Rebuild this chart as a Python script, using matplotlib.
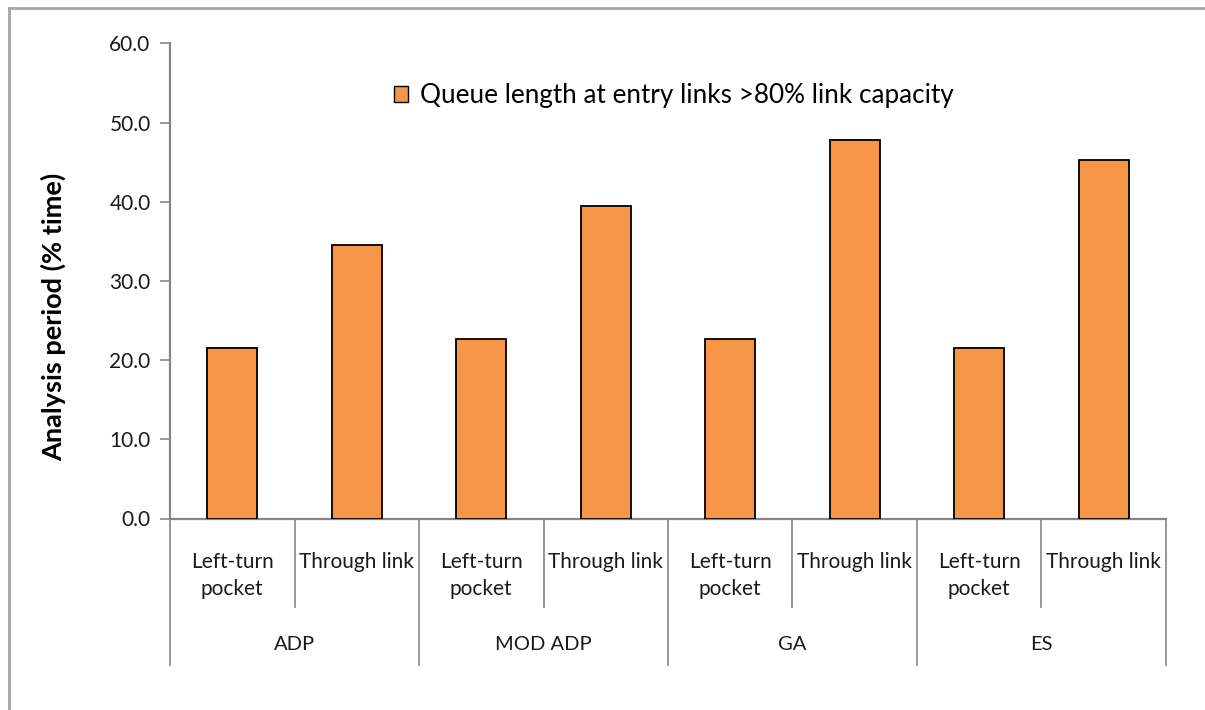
import matplotlib
matplotlib.use("Agg")
import matplotlib.pyplot as plt
from matplotlib.lines import Line2D
from matplotlib.patches import Patch

plt.rcParams['font.family'] = ['Lato', 'DejaVu Sans']

groups = ["ADP", "MOD ADP", "GA", "ES"]
links = ["Left-turn\npocket", "Through link"]
values = [21.5, 34.5, 22.7, 39.5, 22.7, 47.8, 21.5, 45.3]
series_name = "Queue length at entry links >80% link capacity"
y_ticks = [0, 10, 20, 30, 40, 50, 60]

bar_color = "#F79646"
axis_gray = "#868686"
text_color = "#1a1a1a"

W, H = 1205, 710
fig = plt.figure(figsize=(W / 100, H / 100), dpi=100)
ax = fig.add_axes([170 / W, 1 - 518.5 / H, (1166 - 170) / W, (518.5 - 43.3) / H])

n = len(values)
xs = list(range(n))
ax.bar(xs, values, width=0.4, color=bar_color, edgecolor="black", linewidth=1.3, zorder=3)

ax.set_xlim(-0.5, n - 0.5)
ax.set_ylim(0, 60)
ax.set_yticks(y_ticks)
ax.set_yticklabels([f"{v:.1f}" for v in y_ticks], fontsize=15, color=text_color)
ax.tick_params(axis="y", direction="out", length=7, width=1.2, color=axis_gray, pad=7)
ax.set_xticks([])

for s in ["top", "right"]:
    ax.spines[s].set_visible(False)
for s in ["left", "bottom"]:
    ax.spines[s].set_color(axis_gray)
    ax.spines[s].set_linewidth(1.6)

ax.set_ylabel("Analysis period (% time)", fontsize=19.5, fontweight="bold")
ax.yaxis.set_label_coords(-0.104, 0.425)

# Two-level category axis below the plot
tr = ax.get_xaxis_transform()
h_axes = 518.5 - 43.3
inner_end = -(607 - 518.5) / h_axes
outer_end = -(665 - 518.5) / h_axes
for k in range(n + 1):
    xpos = k - 0.5
    end = outer_end if k % 2 == 0 else inner_end
    ax.add_line(Line2D([xpos, xpos], [0, end], transform=tr, color=axis_gray,
                       linewidth=1.2, clip_on=False))

y_line1 = -(560 - 518.5) / h_axes
for i in range(n):
    ax.text(xs[i], y_line1 + 0.017, links[i % 2], transform=tr, ha="center", va="top",
            fontsize=15, color=text_color, linespacing=1.45)

y_group = -(645 - 518.5) / h_axes
for g, name in enumerate(groups):
    ax.text(2 * g + 0.5, y_group, name, transform=tr, ha="center", va="center",
            fontsize=14.5, color=text_color)

# Legend
handle = Patch(facecolor=bar_color, edgecolor="black", linewidth=1.0)
fig.legend([handle], [series_name], loc="center left",
           bbox_to_anchor=(381 / W, 1 - 96 / H), frameon=False, fontsize=18.8,
           handlelength=0.55, handleheight=0.55, handletextpad=0.45, borderpad=0)

# Outer chart frame (top and left edges)
fig.add_artist(Line2D([9 / W, 1], [1 - 8 / H, 1 - 8 / H], transform=fig.transFigure,
                      color="#a6a6a6", linewidth=2))
fig.add_artist(Line2D([9 / W, 9 / W], [0, 1 - 8 / H], transform=fig.transFigure,
                      color="#a6a6a6", linewidth=2))

fig.savefig("out.png", dpi=100)
